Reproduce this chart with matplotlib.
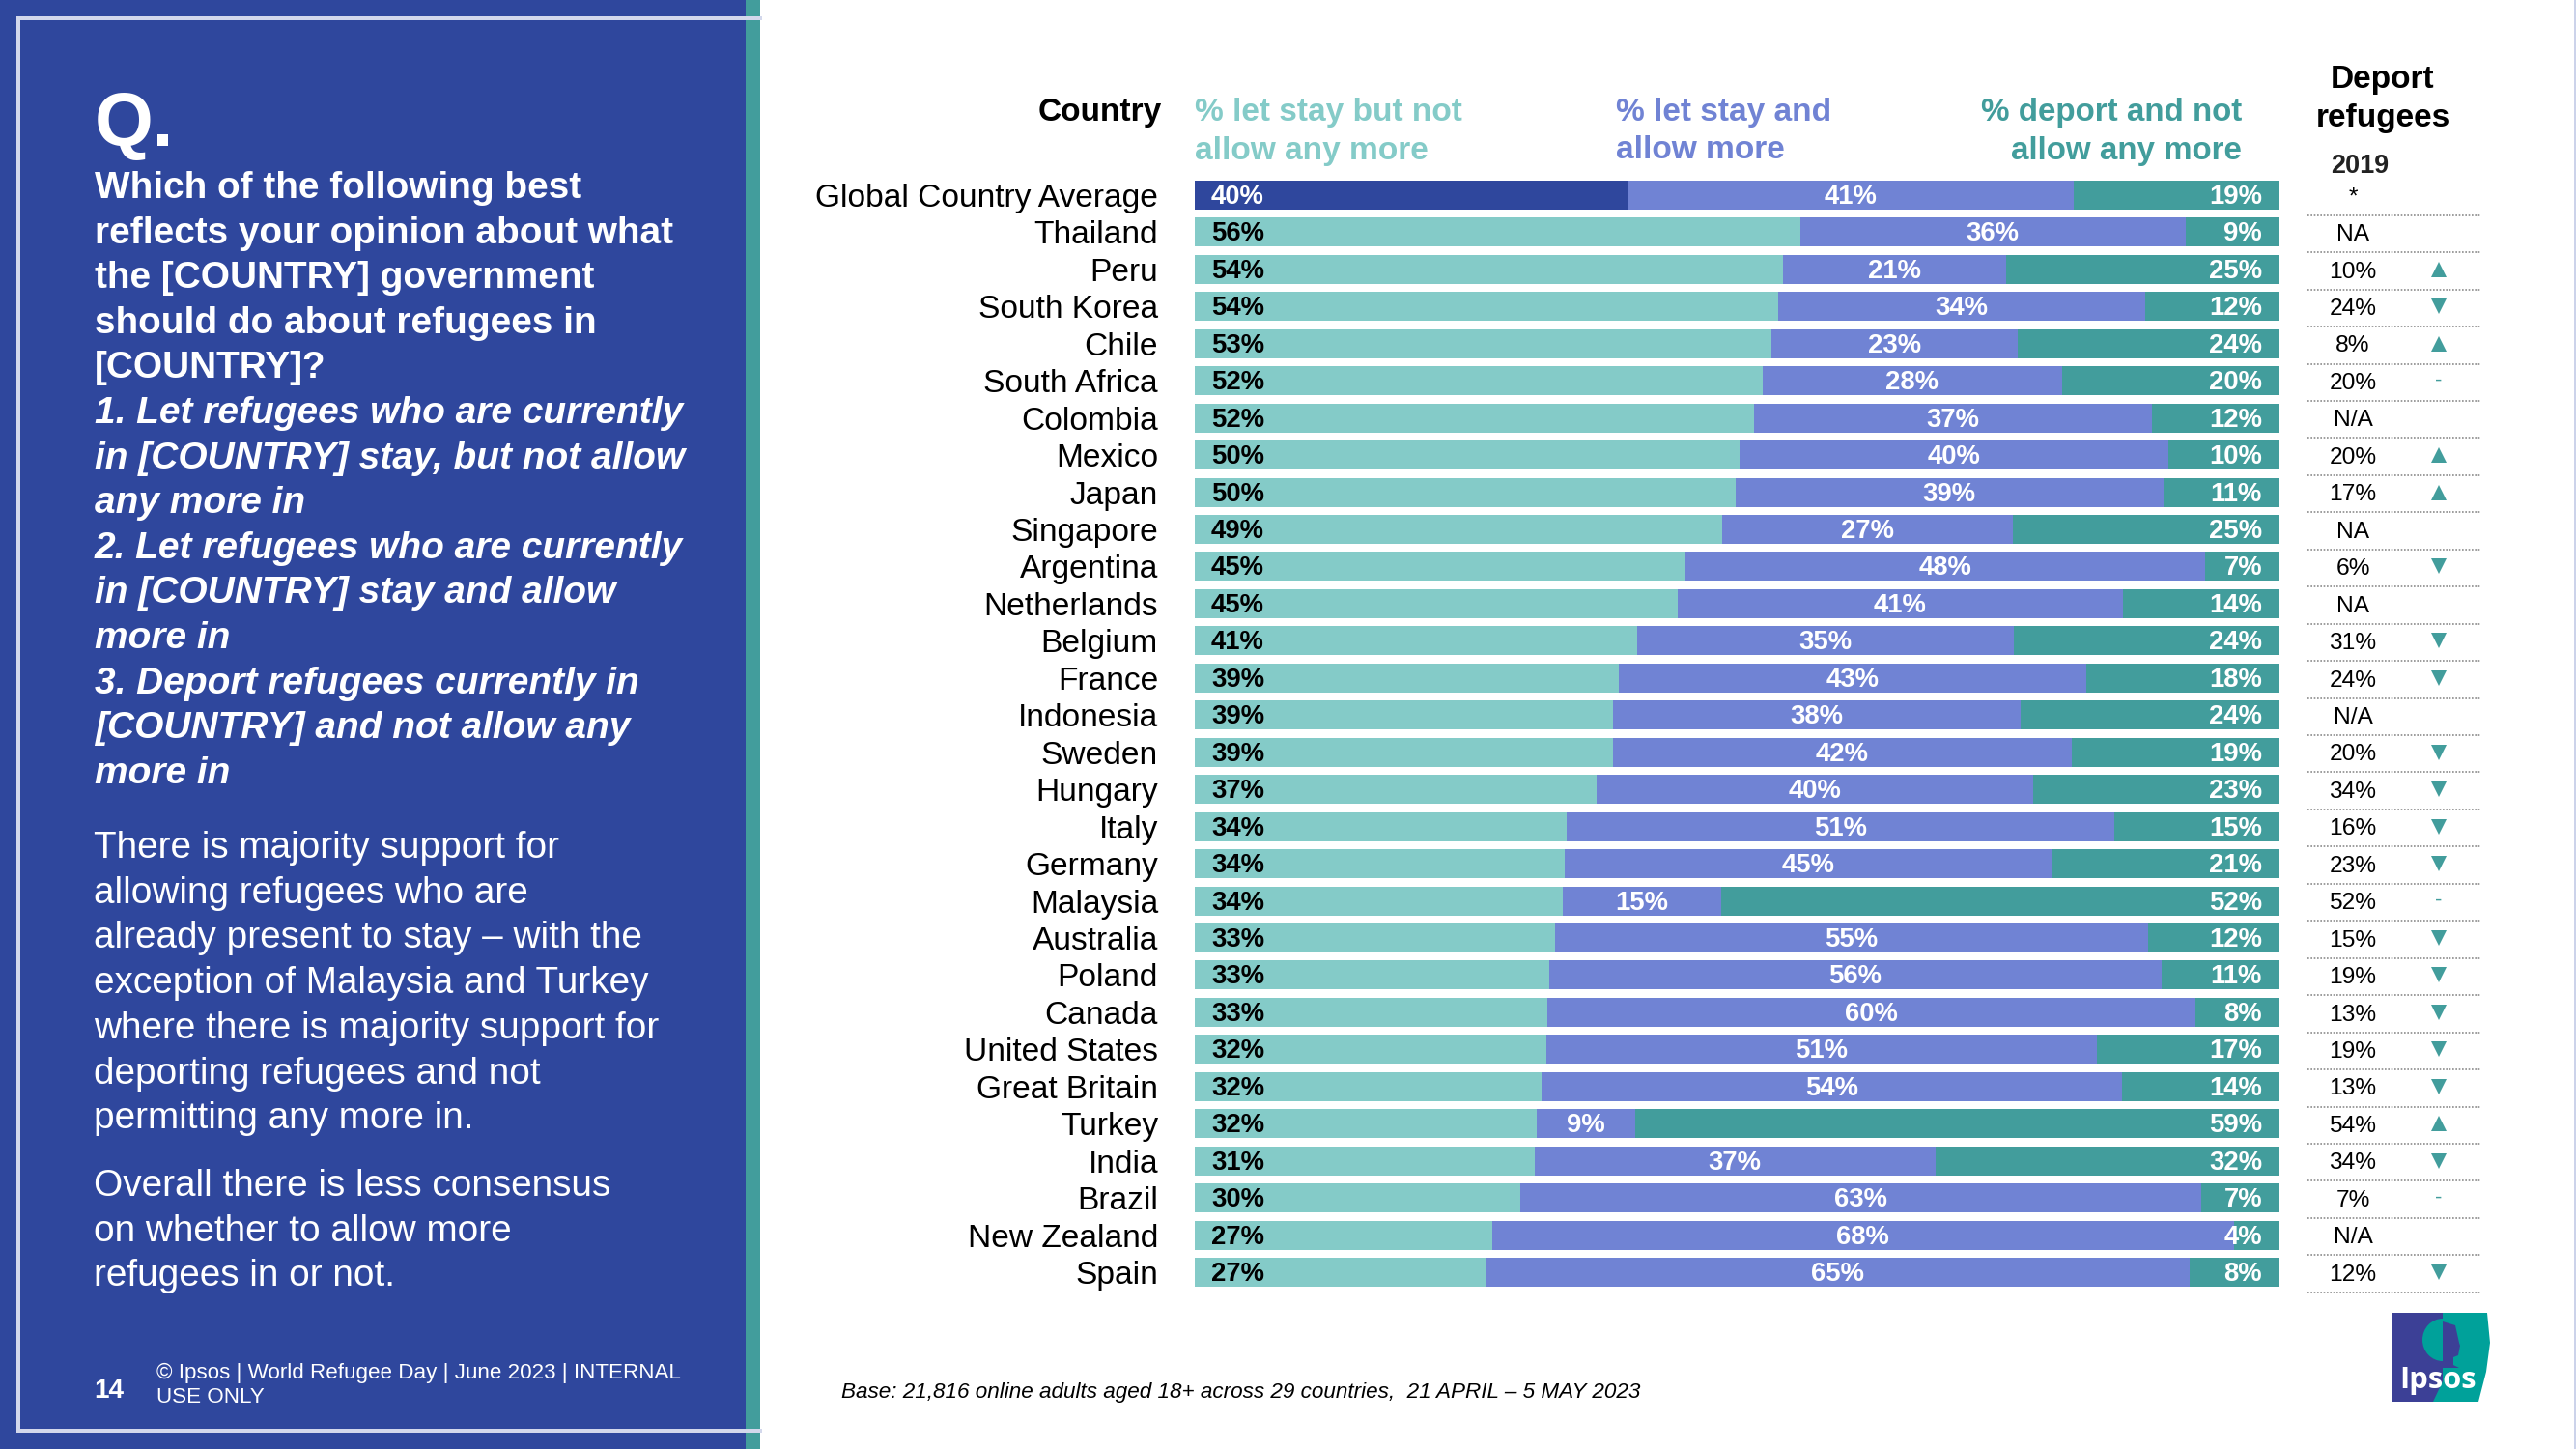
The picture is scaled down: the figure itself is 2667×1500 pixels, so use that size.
import numpy as np
import matplotlib
matplotlib.use('Agg')
import matplotlib.pyplot as plt
from matplotlib.patches import Rectangle, Polygon, Ellipse
from matplotlib.transforms import blended_transform_factory

W, H = 2667, 1500
plt.rcParams['font.family'] = ['Liberation Sans', 'DejaVu Sans']

# data
countries = ['Global Country Average', 'Thailand', 'Peru', 'South Korea', 'Chile', 'South Africa',
             'Colombia', 'Mexico', 'Japan', 'Singapore', 'Argentina', 'Netherlands', 'Belgium',
             'France', 'Indonesia', 'Sweden', 'Hungary', 'Italy', 'Germany', 'Malaysia', 'Australia',
             'Poland', 'Canada', 'United States', 'Great Britain', 'Turkey', 'India', 'Brazil',
             'New Zealand', 'Spain']
stay_no_more = [40.0, 55.9, 54.4, 53.8, 53.2, 52.4, 51.7, 50.3, 49.8, 48.8, 45.3, 44.6, 40.8, 39.1, 38.6,
                38.6, 37.1, 34.4, 34.1, 34.1, 33.2, 32.7, 32.6, 32.4, 32.0, 31.6, 31.4, 30.0, 27.4, 26.8]
stay_and_more = [41.1, 35.6, 20.6, 33.9, 22.7, 27.6, 36.7, 39.5, 39.4, 26.8, 47.9, 41.1, 34.8, 43.2, 37.7,
                 42.4, 40.3, 50.6, 45.0, 14.6, 54.8, 56.4, 59.8, 50.8, 53.6, 9.1, 37.0, 62.9, 68.4, 65.0]
deport = [18.9, 8.6, 25.2, 12.3, 24.1, 20.0, 11.7, 10.2, 10.6, 24.6, 6.8, 14.4, 24.4, 17.7, 23.8,
          19.1, 22.6, 15.2, 20.9, 51.6, 12.0, 10.8, 7.7, 16.8, 14.4, 59.4, 31.7, 7.1, 4.1, 8.2]
deport_2019 = ['*', 'NA', '10%', '24%', '8%', '20%', 'N/A', '20%', '17%', 'NA', '6%', 'NA', '31%', '24%', 'N/A',
               '20%', '34%', '16%', '23%', '52%', '15%', '19%', '13%', '19%', '13%', '54%', '34%', '7%', 'N/A', '12%']
trend = ['', '', 'up', 'down', 'up', '-', '', 'up', 'up', '', 'down', '', 'down', 'down', '',
         'down', 'down', 'down', 'down', '-', 'down', 'down', 'down', 'down', 'down', 'up', 'down', '-', '', 'down']

bold_lines = ['Which of the following best', 'reflects your opinion about what', 'the [COUNTRY] government',
              'should do about refugees in', '[COUNTRY]?']
italic_lines = ['1. Let refugees who are currently', 'in [COUNTRY] stay, but not allow', 'any more in',
                '2. Let refugees who are currently', 'in [COUNTRY] stay and allow', 'more in',
                '3. Deport refugees currently in', '[COUNTRY] and not allow any', 'more in']
para1 = ['There is majority support for', 'allowing refugees who are', 'already present to stay \u2013 with the',
         'exception of Malaysia and Turkey', 'where there is majority support for', 'deporting refugees and not',
         'permitting any more in.']
para2 = ['Overall there is less consensus', 'on whether to allow more', 'refugees in or not.']

NAVY = '#2f479d'
LIGHT = '#84cbc8'
MID = '#7083d4'
TEAL = '#429d9c'


def pt(px):
    return px * 72 / 100


fig = plt.figure(figsize=(26.67, 15), dpi=100, facecolor='white')

# overlay in pixel coordinates, for the panel and free text
bg = fig.add_axes([0, 0, 1, 1])
bg.set_xlim(0, W)
bg.set_ylim(H, 0)
bg.axis('off')


def put(x, y, s, size, **kw):
    kw.setdefault('va', 'center')
    kw.setdefault('color', 'black')
    bg.text(x, y, s, fontsize=pt(size), **kw)


bg.add_patch(Rectangle((0, 0), 772, H, fc=NAVY, ec='none'))
bg.add_patch(Rectangle((772, 0), 15, H, fc=TEAL, ec='none'))
bg.add_patch(Rectangle((2665, 0), 2, H, fc='#ccd3ea', ec='none'))
bg.plot([787, 19, 19, 787], [19, 19, 1481, 1481], color='#d3d8ec', lw=pt(4), solid_joinstyle='miter')

put(98, 130, 'Q.', 78, color='white', fontweight='bold')
y = 195
for s in bold_lines:
    put(98, y, s, 38.8, color='white', fontweight='bold')
    y += 46.6
for s in italic_lines:
    put(98, y, s, 38.9, color='white', fontweight='bold', fontstyle='italic')
    y += 46.6
y = 878
for s in para1:
    put(97, y, s, 38.8, color='white')
    y += 46.7
y = 1228
for s in para2:
    put(97, y, s, 38.8, color='white')
    y += 46.7
put(97, 1440, '14', 28, color='white', fontweight='bold')
put(162, 1421, '\u00a9 Ipsos | World Refugee Day | June 2023 | INTERNAL', 22.4, color='white')
put(162, 1447, 'USE ONLY', 22.4, color='white')

# headers
put(1203, 116, 'Country', 33.5, ha='right', fontweight='bold')
put(1237, 116, '% let stay but not', 33.5, color=LIGHT, fontweight='bold')
put(1237, 156, 'allow any more', 33.5, color=LIGHT, fontweight='bold')
put(1673, 116, '% let stay and', 33.5, color=MID, fontweight='bold')
put(1673, 156, 'allow more', 33.5, color=MID, fontweight='bold')
put(2321, 116, '% deport and not', 33.2, ha='right', color=TEAL, fontweight='bold')
put(2321, 156, 'allow any more', 33.2, ha='right', color=TEAL, fontweight='bold')
put(2467, 83, 'Deport', 33.5, ha='center', fontweight='bold')
put(2467, 123, 'refugees', 33.5, ha='center', fontweight='bold')
put(2443, 172, '2019', 27, ha='center', fontweight='bold', color='#222222')
put(871, 1441, 'Base: 21,816 online adults aged 18+ across 29 countries,  21 APRIL \u2013 5 MAY 2023', 22.5, fontstyle='italic')

# logo
bg.add_patch(Polygon([(2476, 1359), (2575, 1359), (2578, 1390), (2574, 1420), (2566, 1451), (2476, 1451)],
                     fc='#00a19a', ec='none'))
bg.add_patch(Polygon([(2476, 1359), (2529, 1359), (2529, 1430), (2519, 1451), (2476, 1451)], fc='#3c4096', ec='none'))
bg.add_patch(Ellipse((2529, 1387), 42, 44, fc='#00a19a', ec='none'))
bg.add_patch(Polygon([(2529, 1368), (2542, 1372), (2546, 1390), (2547, 1393), (2545, 1403), (2540, 1405),
                      (2540, 1413), (2546, 1416), (2529, 1416)], fc='#3c4096', ec='none'))
put(2524, 1429, 'Ipsos', 31, ha='center', color='white', fontweight='bold', family='Open Sans')

# stacked bars
row_h = 1115 / 29
ax = fig.add_axes([1237 / W, 1 - (1317 + row_h / 2) / H, (2359 - 1237) / W, (1115 + row_h) / H])
rows = np.arange(len(countries))
a = np.array(stay_no_more)
b = np.array(stay_and_more)
c = np.array(deport)
total = a + b + c
a_w, b_w, c_w = a / total * 100, b / total * 100, c / total * 100

colors_a = [NAVY] + [LIGHT] * (len(rows) - 1)
bar_h = 30 / row_h
ax.barh(rows, a_w, height=bar_h, color=colors_a)
ax.barh(rows, b_w, left=a_w, height=bar_h, color=MID)
ax.barh(rows, c_w, left=a_w + b_w, height=bar_h, color=TEAL)
ax.set_xlim(0, 100)
ax.set_ylim(len(rows) - 0.5, -0.5)
ax.set_yticks(rows)
ax.set_yticklabels(countries, fontsize=pt(33.5))
ax.tick_params(axis='y', length=0, pad=pt(38))
ax.set_xticks([])
for sp in ax.spines.values():
    sp.set_visible(False)
ax.patch.set_alpha(0)

lab = pt(27.5)
down = pt(-2)  # labels sit a little under the bar centre
for i in rows:
    ax.annotate(f'{a[i]:.0f}%', (0, i), xytext=(pt(17), down), textcoords='offset points', ha='left', va='center',
                fontsize=lab, fontweight='bold', color='white' if i == 0 else 'black')
    ax.annotate(f'{b[i]:.0f}%', (a_w[i] + b_w[i] / 2, i), xytext=(0, down), textcoords='offset points',
                ha='center', va='center', fontsize=lab, fontweight='bold', color='white')
    ax.annotate(f'{c[i]:.0f}%', (100, i), xytext=(pt(-17), down), textcoords='offset points', ha='right', va='center',
                fontsize=lab, fontweight='bold', color='white')

# 2019 column, same rows as the bars
tr = blended_transform_factory(bg.transData, ax.transData)
for i in rows:
    ax.text(2436, i + 0.07, deport_2019[i], transform=tr, ha='center', va='center', fontsize=pt(24.5), clip_on=False,
            color='black')
    ax.plot([2389, 2569], [i + 0.54, i + 0.54], transform=tr, color='#8c8c8c', lw=1.2, ls=(0, (1, 1)), clip_on=False)
    if trend[i] == 'up':
        ax.plot([2525], [i], marker='^', ms=pt(16), color=TEAL, mew=0, transform=tr, clip_on=False)
    elif trend[i] == 'down':
        ax.plot([2525], [i], marker='v', ms=pt(16), color=TEAL, mew=0, transform=tr, clip_on=False)
    elif trend[i] == '-':
        ax.text(2525, i, '-', transform=tr, ha='center', va='center', fontsize=pt(22), color=TEAL, clip_on=False)

fig.savefig('out.png', dpi=100)
